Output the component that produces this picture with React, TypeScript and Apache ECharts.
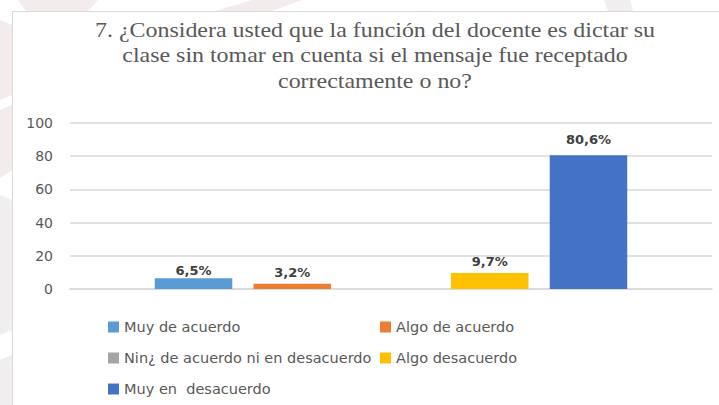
import React, { useEffect, useRef } from "react";
import * as echarts from "echarts";

const titleLines = [
  "7. ¿Considera usted que la función del docente es dictar su",
  "clase sin tomar en cuenta si el mensaje fue receptado",
  "correctamente o no?",
];
const seriesNames = [
  "Muy de acuerdo",
  "Algo de acuerdo",
  "Nin¿ de acuerdo ni en desacuerdo",
  "Algo desacuerdo",
  "Muy en  desacuerdo",
];
const seriesValues = [6.5, 3.2, 0, 9.7, 80.6];
const seriesColors = ["#5B9BD5", "#ED7D31", "#A5A5A5", "#FFC000", "#4472C4"];
const labelDistances = [1, 5, 1, 5, 9];
const yTicks = { min: 0, max: 100, interval: 20 };

export default function App() {
  const ref = useRef<HTMLDivElement>(null);
  useEffect(() => {
    document.body.style.margin = "0";
    const chart = echarts.init(ref.current!, null, { renderer: "svg" });
    const pink = "#f3ebec";
    const grey = "#f0eeee";
    const legendText = { fontFamily: "DejaVu Sans", fontSize: 14.5, color: "#595959", lineHeight: 16 };
    chart.setOption({
      animation: false,
      backgroundColor: "#ffffff",
      graphic: [
        { type: "polygon", z: -10, shape: { points: [[18, 0], [98, 0], [88, 11], [26, 11]] }, style: { fill: pink } },
        { type: "polygon", z: -10, shape: { points: [[215, 11], [252, 0], [302, 0], [272, 11]] }, style: { fill: pink } },
        { type: "polygon", z: -10, shape: { points: [[604, 0], [630, 0], [633, 11], [608, 11]] }, style: { fill: grey } },
        { type: "polygon", z: -10, shape: { points: [[0, 20], [12, 25], [12, 95], [0, 100]] }, style: { fill: pink } },
        { type: "polygon", z: -10, shape: { points: [[0, 110], [12, 105], [12, 170], [0, 178]] }, style: { fill: pink } },
        { type: "polygon", z: -10, shape: { points: [[0, 195], [12, 200], [12, 330], [0, 335]] }, style: { fill: grey } },
        { type: "polygon", z: -10, shape: { points: [[0, 360], [12, 355], [12, 405], [0, 405]] }, style: { fill: grey } },
        {
          type: "rect",
          z: -5,
          shape: { x: 12.5, y: 11.5, width: 800, height: 500 },
          style: { fill: "#ffffff", stroke: "#d9d9d9", lineWidth: 1 },
        },
        {
          type: "text",
          x: 375,
          y: 17,
          scaleX: 1.14,
          z: 10,
          style: {
            text: titleLines.join("\n"),
            fontFamily: "Liberation Serif",
            fontSize: 21,
            lineHeight: 25.5,
            fill: "#595959",
            align: "center",
            verticalAlign: "top",
          },
        },
      ],
      legend: [
        {
          orient: "vertical",
          left: 103,
          top: 314,
          itemWidth: 11,
          itemHeight: 11,
          itemGap: 15,
          icon: "rect",
          data: [seriesNames[0], seriesNames[2], seriesNames[4]],
          textStyle: legendText,
        },
        {
          orient: "vertical",
          left: 375,
          top: 314,
          itemWidth: 11,
          itemHeight: 11,
          itemGap: 15,
          icon: "rect",
          data: [seriesNames[1], seriesNames[3]],
          textStyle: legendText,
        },
      ],
      grid: { left: 70, right: 7, top: 123, bottom: 116, containLabel: false },
      xAxis: {
        type: "category",
        data: [""],
        axisLine: { show: true, lineStyle: { color: "#d9d9d9", width: 1.5 } },
        axisTick: { show: false },
        axisLabel: { show: false },
      },
      yAxis: {
        type: "value",
        min: yTicks.min,
        max: yTicks.max,
        interval: yTicks.interval,
        axisLine: { show: false },
        axisTick: { show: false },
        splitLine: { lineStyle: { color: "#d9d9d9", width: 1.5 } },
        axisLabel: {
          margin: 17,
          fontFamily: "DejaVu Sans",
          fontSize: 14,
          color: "#595959",
        },
      },
      series: seriesNames.map((name, i) => ({
        type: "bar",
        name,
        data: [seriesValues[i]],
        barWidth: 77.5,
        barGap: "27.4%",
        itemStyle: { color: seriesColors[i] },
        label: {
          show: seriesValues[i] > 0,
          position: "top",
          distance: labelDistances[i],
          fontFamily: "DejaVu Sans",
          fontSize: 13,
          fontWeight: "bold",
          color: "#404040",
          formatter: (p: any) => p.value.toFixed(1).replace(".", ",") + "%",
        },
      })),
    });
    return () => chart.dispose();
  }, []);
  return (
    <div
      ref={ref}
      style={{ position: "absolute", left: 0, top: 0, width: 719, height: 405 }}
    />
  );
}
